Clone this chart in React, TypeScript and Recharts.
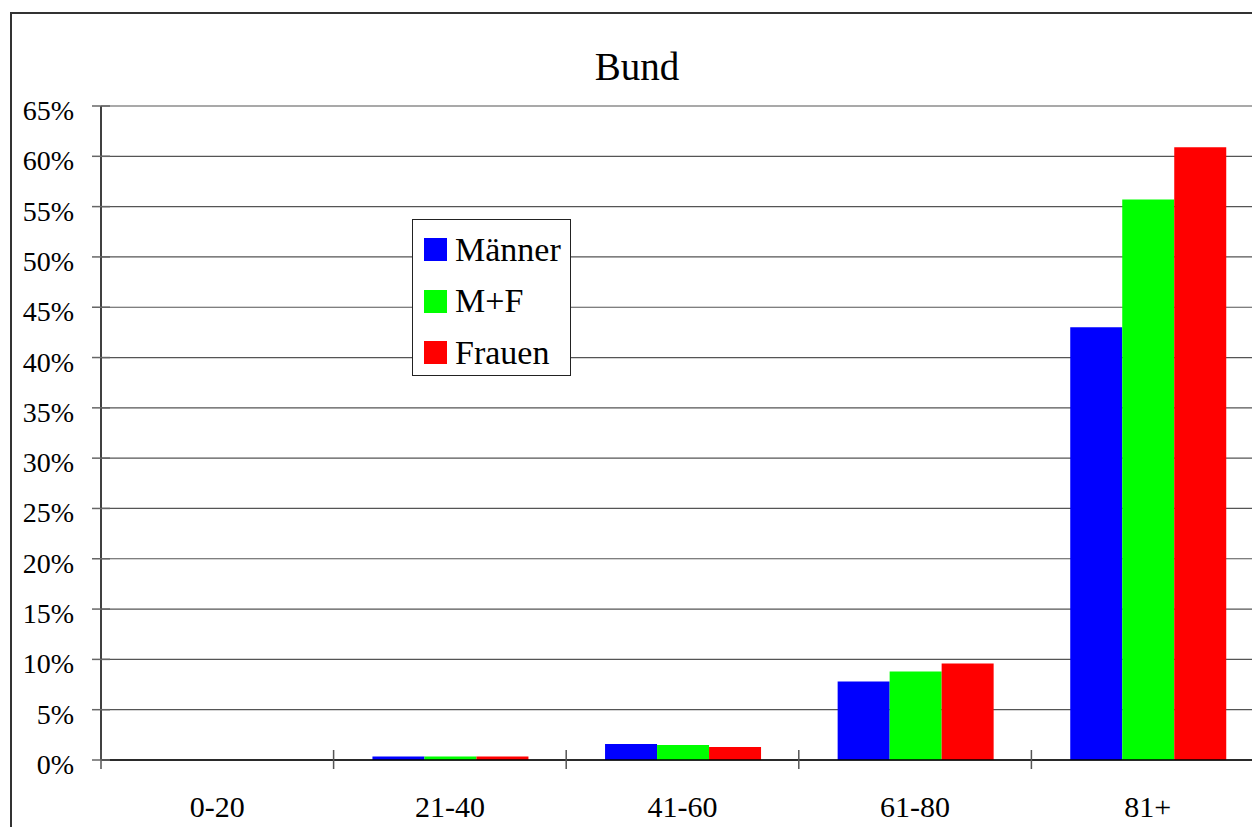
import { BarChart, Bar, XAxis, YAxis, CartesianGrid, Legend } from "recharts";

const categories = ["0-20", "21-40", "41-60", "61-80", "81+"];
const maenner = [0, 0.35, 1.6, 7.8, 43.0];
const mf = [0, 0.35, 1.5, 8.8, 55.7];
const frauen = [0, 0.35, 1.3, 9.6, 60.9];
const seriesNames = ["Männer", "M+F", "Frauen"];
const yTicks = [0, 5, 10, 15, 20, 25, 30, 35, 40, 45, 50, 55, 60, 65];

const data = categories.map((group, i) => ({
  group,
  maenner: maenner[i],
  mf: mf[i],
  frauen: frauen[i],
}));

const FONT = '"Liberation Serif", "Times New Roman", serif';
const CHART_W = 1300;
const CHART_H = 830;
const MARGIN = { top: 106, right: 36, left: 0, bottom: 0 };
const Y_AXIS_W = 101;
const PLOT_W = CHART_W - MARGIN.left - MARGIN.right - Y_AXIS_W;
const BAND = PLOT_W / categories.length;

const YTick = (props: any) => {
  const { x, y, payload } = props;
  return (
    <g>
      <line x1={x - 9} x2={x + 9} y1={y} y2={y} stroke="#666" strokeWidth={1.5} />
      <text x={x - 27} y={y + 14} textAnchor="end" fontSize={28} fontFamily={FONT} fill="#000">
        {`${payload.value}%`}
      </text>
    </g>
  );
};

const XTick = (props: any) => {
  const { x, y, payload } = props;
  return (
    <g>
      <line x1={x - BAND / 2} x2={x - BAND / 2} y1={y - 10} y2={y + 9} stroke="#555" strokeWidth={1.5} />
      <text x={x} y={y + 57} textAnchor="middle" fontSize={30} fontFamily={FONT} fill="#000">
        {payload.value}
      </text>
    </g>
  );
};

const LegendBox = (props: any) => {
  const items = [...(props.payload || [])].sort(
    (a: any, b: any) => seriesNames.indexOf(a.value) - seriesNames.indexOf(b.value)
  );
  return (
    <div
      style={{
        width: 157,
        height: 151,
        border: "1.5px solid #222",
        background: "#fff",
        fontFamily: FONT,
        fontSize: 34,
        color: "#000",
        boxSizing: "content-box",
        paddingTop: 4,
      }}
    >
      {items.map((entry: any) => (
        <div
          key={entry.value}
          style={{ display: "flex", alignItems: "center", height: 51.5, paddingLeft: 11 }}
        >
          <span
            style={{ display: "inline-block", width: 23, height: 23, background: entry.color, marginRight: 8 }}
          />
          <span style={{ lineHeight: "34px" }}>{entry.value}</span>
        </div>
      ))}
    </div>
  );
};

export default function App() {
  return (
    <div
      style={{
        position: "absolute",
        left: 0,
        top: 0,
        width: 1252,
        height: 827,
        overflow: "hidden",
        background: "#fff",
        fontFamily: FONT,
      }}
    >
      <div
        style={{
          position: "absolute",
          left: 10,
          top: 12,
          width: 1400,
          height: 1000,
          border: "2px solid #333",
          boxSizing: "border-box",
        }}
      />
      <div
        style={{
          position: "absolute",
          left: 0,
          top: 47,
          width: 1274,
          textAlign: "center",
          fontSize: 39,
          lineHeight: "39px",
          color: "#000",
        }}
      >
        Bund
      </div>
      <div style={{ position: "absolute", left: 0, top: 0 }}>
        <BarChart
          width={CHART_W}
          height={CHART_H}
          data={data}
          margin={MARGIN}
          barCategoryGap="16.7%"
          barGap={0}
        >
          <CartesianGrid vertical={false} stroke="#555" strokeWidth={1.2} />
          <XAxis
            dataKey="group"
            interval={0}
            height={70}
            tickSize={0}
            tickMargin={0}
            tickLine={false}
            axisLine={{ stroke: "#000", strokeWidth: 1.5 }}
            tick={<XTick />}
          />
          <YAxis
            domain={[0, 65]}
            ticks={yTicks}
            width={Y_AXIS_W}
            tickSize={0}
            tickMargin={0}
            tickLine={false}
            interval={0}
            axisLine={{ stroke: "#000", strokeWidth: 1.5 }}
            tick={<YTick />}
          />
          <Legend
            content={<LegendBox />}
            layout="horizontal"
            verticalAlign="middle"
            align="center"
            wrapperStyle={{ left: 412, top: 219, width: "auto" }}
          />
          <Bar dataKey="maenner" name="Männer" fill="#0000FF" isAnimationActive={false} />
          <Bar dataKey="mf" name="M+F" fill="#00FF00" isAnimationActive={false} />
          <Bar dataKey="frauen" name="Frauen" fill="#FF0000" isAnimationActive={false} />
        </BarChart>
      </div>
    </div>
  );
}
